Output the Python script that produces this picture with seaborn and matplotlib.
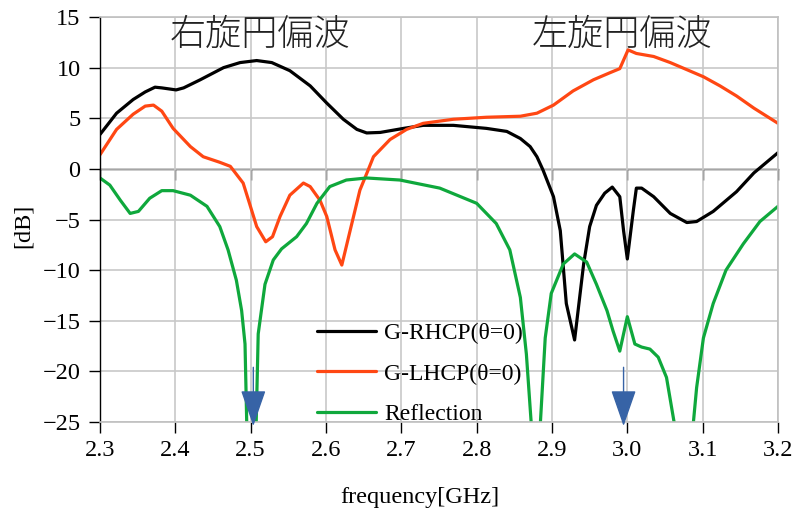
import matplotlib
matplotlib.use('Agg')
import matplotlib.pyplot as plt
import pandas as pd
import seaborn as sns

# data
rh_freq = [2.300, 2.322, 2.344, 2.360, 2.373, 2.382, 2.401, 2.411, 2.433, 2.464,
           2.486, 2.508, 2.528, 2.552, 2.579, 2.601, 2.623, 2.641, 2.654, 2.672,
           2.703, 2.729, 2.769, 2.813, 2.840, 2.858, 2.871, 2.880, 2.888, 2.902,
           2.911, 2.919, 2.930, 2.942, 2.950, 2.959, 2.970, 2.980, 2.990, 2.995,
           3.000, 3.008, 3.012, 3.019, 3.035, 3.057, 3.079, 3.092, 3.114, 3.145,
           3.168, 3.200]
rh_db = [3.4, 5.5, 6.85, 7.6, 8.07, 8.0, 7.8, 8.0, 8.8, 10.0,
         10.5, 10.7, 10.5, 9.7, 8.2, 6.5, 4.9, 3.9, 3.55, 3.6,
         4.0, 4.3, 4.3, 4.0, 3.7, 3.0, 2.2, 1.2, -0.1, -2.75,
         -6.1, -13.3, -16.9, -9.4, -5.7, -3.6, -2.4, -1.8, -2.75, -6.1,
         -8.9, -4.1, -1.9, -1.9, -2.75, -4.4, -5.3, -5.2, -4.2, -2.25,
         -0.4, 1.6]

lh_freq = [2.300, 2.322, 2.344, 2.360, 2.371, 2.382, 2.397, 2.420, 2.437, 2.459,
           2.473, 2.490, 2.498, 2.508, 2.520, 2.529, 2.539, 2.552, 2.570, 2.579,
           2.592, 2.601, 2.612, 2.621, 2.632, 2.645, 2.656, 2.663, 2.685, 2.707,
           2.729, 2.769, 2.813, 2.858, 2.880, 2.902, 2.928, 2.955, 2.977, 2.990,
           3.001, 3.012, 3.035, 3.057, 3.079, 3.101, 3.123, 3.145, 3.168, 3.200]
lh_db = [1.4, 3.9, 5.4, 6.2, 6.3, 5.7, 4.0, 2.2, 1.2, 0.65,
         0.25, -1.4, -3.3, -5.7, -7.2, -6.7, -4.7, -2.6, -1.4, -1.75,
         -3.1, -4.7, -8.0, -9.5, -6.1, -2.1, -0.1, 1.2, 2.9, 3.9,
         4.5, 4.9, 5.1, 5.2, 5.5, 6.3, 7.7, 8.8, 9.5, 9.9,
         11.75, 11.4, 11.1, 10.5, 9.8, 9.1, 8.2, 7.2, 6.0, 4.5]

rf_freq = [2.300, 2.313, 2.327, 2.340, 2.351, 2.366, 2.382, 2.397, 2.420, 2.442,
           2.459, 2.470, 2.481, 2.488, 2.4925, 2.4948, 2.501, 2.5073, 2.510, 2.519,
           2.530, 2.541, 2.561, 2.574, 2.588, 2.605, 2.627, 2.654, 2.698, 2.751,
           2.800, 2.826, 2.844, 2.858, 2.866, 2.8725, 2.879, 2.8845, 2.891, 2.899,
           2.915, 2.930, 2.946, 2.959, 2.973, 2.981, 2.990, 3.000, 3.010, 3.019,
           3.030, 3.041, 3.052, 3.0625, 3.075, 3.0875, 3.092, 3.101, 3.114, 3.131,
           3.154, 3.176, 3.200]
rf_db = [-0.9, -1.6, -3.1, -4.4, -4.2, -2.9, -2.15, -2.15, -2.6, -3.7,
         -5.7, -8.0, -11.0, -14.0, -17.3, -25.2, -32, -25.2, -16.3, -11.4,
         -9.0, -7.9, -6.7, -5.4, -3.4, -1.75, -1.1, -0.9, -1.1, -1.9,
         -3.4, -5.4, -8.0, -12.7, -18.3, -25.2, -32, -25.2, -16.7, -12.3,
         -9.4, -8.4, -9.2, -11.4, -14.0, -16.0, -18.0, -14.6, -17.3, -17.6,
         -17.8, -18.6, -20.6, -25.2, -32, -25.2, -21.6, -16.7, -13.3, -10.0,
         -7.4, -5.2, -3.7]

series_names = ['G-RHCP(θ=0)', 'G-LHCP(θ=0)', 'Reflection']
series_colors = ['#000000', '#ff4713', '#0fa83c']
arrow_freqs = [2.5035, 2.995]
x_ticks = [2.3, 2.4, 2.5, 2.6, 2.7, 2.8, 2.9, 3.0, 3.1, 3.2]
y_ticks = [-25, -20, -15, -10, -5, 0, 5, 10, 15]

df = pd.concat([
    pd.DataFrame({'freq': rh_freq, 'dB': rh_db, 'series': series_names[0]}),
    pd.DataFrame({'freq': lh_freq, 'dB': lh_db, 'series': series_names[1]}),
    pd.DataFrame({'freq': rf_freq, 'dB': rf_db, 'series': series_names[2]}),
])

sns.set_style('white', rc={'xtick.color': 'black', 'ytick.color': 'black',
                           'text.color': 'black', 'axes.labelcolor': 'black'})
plt.rcParams['font.family'] = ['Liberation Serif', 'DejaVu Serif']

fig = plt.figure(figsize=(7.95, 5.11), dpi=100)
ax = fig.add_axes([0.1258, 0.1742, 0.8528, 0.7925])

sns.lineplot(data=df, x='freq', y='dB', hue='series', hue_order=series_names,
             palette=series_colors, estimator=None, sort=False, linewidth=2.3,
             ax=ax)

ax.set_xlim(2.3, 3.2)
ax.set_ylim(-25, 15)
ax.set_xticks(x_ticks)
ax.set_xticklabels([f'{t:.1f}' for t in x_ticks])
ax.set_yticks(y_ticks)
ax.grid(True, color='#c8c8c8', linewidth=1.2)
ax.set_axisbelow(True)

for side in ['top', 'right', 'bottom']:
    ax.spines[side].set_color('#c0c0c0')
    ax.spines[side].set_linewidth(1.2)
ax.spines['left'].set_color('black')
ax.spines['left'].set_linewidth(1.0)

ax.tick_params(axis='both', direction='out', length=8, width=1.0, color='black',
               labelsize=17.5, bottom=True, left=True)
ax.tick_params(axis='x', pad=5)
ax.tick_params(axis='y', pad=6)

# zero line with tick marks crossing at 0 dB
zero_ax = ax.secondary_xaxis(25 / 40)
zero_ax.set_xticks(x_ticks)
zero_ax.spines['top'].set_color('black')
zero_ax.spines['top'].set_linewidth(1.0)
zero_ax.tick_params(axis='x', which='major', direction='in', length=8, width=1.0,
                    color='black', labeltop=False, labelbottom=False)

ax.set_xlabel('frequency[GHz]', fontsize=17.5)
ax.set_ylabel('[dB]', fontsize=17.5)
ax.xaxis.set_label_coords(0.472, -0.16)
ax.yaxis.set_label_coords(-0.097, 0.484)

ax.legend(loc='upper left', bbox_to_anchor=(0.32, 0.245), frameon=False,
          fontsize=17, handlelength=2.5, handletextpad=0.35, labelspacing=0.8,
          borderpad=0, borderaxespad=0)

for f in arrow_freqs:
    ax.annotate('', xy=(f, -25.4), xytext=(f, -19.6),
                arrowprops=dict(arrowstyle='-|>,head_length=2.3,head_width=0.8',
                                mutation_scale=10, color='#3763a6', lw=1.0,
                                shrinkA=0, shrinkB=0),
                annotation_clip=False, zorder=5)

ax.text(2.512, 13.3, '右旋円偏波', fontsize=26, ha='center', va='center',
        family=['Noto Sans CJK JP', 'DejaVu Sans'], fontweight='light',
        color='#222222')
ax.text(2.993, 13.3, '左旋円偏波', fontsize=26, ha='center', va='center',
        family=['Noto Sans CJK JP', 'DejaVu Sans'], fontweight='light',
        color='#222222')

fig.savefig('out.png', dpi=100)
